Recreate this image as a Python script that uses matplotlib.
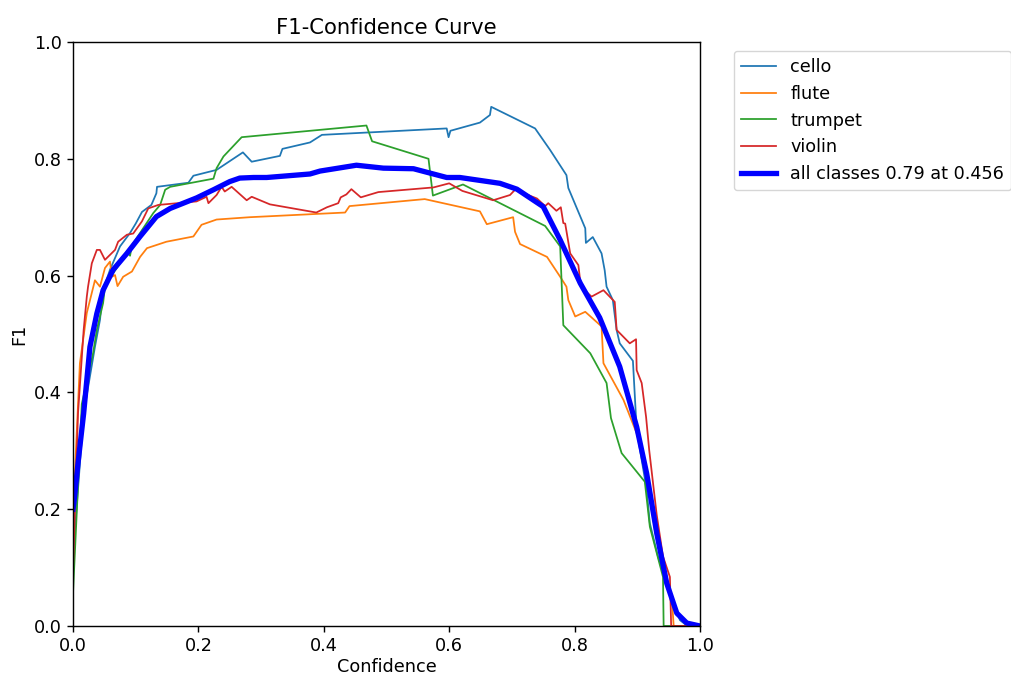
import matplotlib.pyplot as plt

# values (confidence, F1)
cello_x = [0.0, 0.017, 0.035, 0.043, 0.048, 0.059, 0.075, 0.091, 0.10, 0.11, 0.125, 0.133, 0.134,
           0.184, 0.192, 0.229, 0.271, 0.285, 0.330, 0.334, 0.378, 0.397, 0.596, 0.599, 0.602,
           0.649, 0.665, 0.667, 0.737, 0.761, 0.787, 0.790, 0.817, 0.818, 0.829, 0.843, 0.848,
           0.851, 0.861, 0.867, 0.872, 0.893, 0.899, 0.915, 0.920, 0.933, 0.947, 0.968, 0.98, 1.0]
cello_y = [0.12, 0.364, 0.478, 0.524, 0.575, 0.61, 0.65, 0.673, 0.689, 0.709, 0.721, 0.741, 0.752,
           0.759, 0.771, 0.781, 0.811, 0.795, 0.805, 0.817, 0.828, 0.841, 0.852, 0.837, 0.848,
           0.862, 0.875, 0.889, 0.852, 0.815, 0.772, 0.750, 0.681, 0.656, 0.666, 0.638, 0.609,
           0.581, 0.558, 0.507, 0.484, 0.454, 0.336, 0.233, 0.176, 0.119, 0.073, 0.01, 0.0, 0.0]

flute_x = [0.0, 0.011, 0.022, 0.035, 0.043, 0.051, 0.059, 0.062, 0.067, 0.071, 0.080, 0.094, 0.107,
           0.118, 0.149, 0.192, 0.205, 0.229, 0.282, 0.434, 0.441, 0.561, 0.649, 0.660, 0.702,
           0.705, 0.713, 0.756, 0.777, 0.787, 0.790, 0.801, 0.817, 0.843, 0.846, 0.878, 0.899,
           0.915, 0.928, 0.947, 0.955, 0.958, 1.0]
flute_y = [0.19, 0.45, 0.536, 0.592, 0.581, 0.613, 0.624, 0.598, 0.601, 0.582, 0.598, 0.607, 0.632,
           0.647, 0.658, 0.667, 0.687, 0.696, 0.700, 0.708, 0.719, 0.731, 0.710, 0.688, 0.700,
           0.675, 0.654, 0.632, 0.598, 0.581, 0.558, 0.530, 0.538, 0.513, 0.450, 0.387, 0.330,
           0.267, 0.164, 0.073, 0.05, 0.0, 0.0]

trumpet_x = [0.0, 0.014, 0.032, 0.038, 0.048, 0.051, 0.064, 0.075, 0.086, 0.091, 0.094, 0.128, 0.139,
             0.147, 0.155, 0.224, 0.229, 0.240, 0.269, 0.468, 0.477, 0.567, 0.574, 0.622, 0.753,
             0.777, 0.782, 0.825, 0.851, 0.858, 0.875, 0.912, 0.920, 0.941, 0.942, 1.0]
trumpet_y = [0.056, 0.38, 0.467, 0.507, 0.553, 0.581, 0.604, 0.621, 0.641, 0.634, 0.652, 0.707, 0.721,
             0.747, 0.752, 0.766, 0.784, 0.804, 0.837, 0.857, 0.830, 0.800, 0.737, 0.756, 0.685,
             0.650, 0.515, 0.467, 0.416, 0.356, 0.296, 0.247, 0.170, 0.084, 0.0, 0.0]

violin_x = [0.0, 0.008, 0.017, 0.022, 0.024, 0.030, 0.038, 0.043, 0.051, 0.067, 0.072, 0.086, 0.096,
            0.110, 0.120, 0.136, 0.197, 0.213, 0.216, 0.229, 0.237, 0.242, 0.253, 0.277, 0.285,
            0.314, 0.388, 0.405, 0.423, 0.427, 0.436, 0.444, 0.459, 0.487, 0.575, 0.600, 0.621,
            0.670, 0.697, 0.705, 0.740, 0.753, 0.758, 0.771, 0.778, 0.782, 0.785, 0.793, 0.806,
            0.810, 0.827, 0.846, 0.864, 0.866, 0.867, 0.888, 0.898, 0.899, 0.907, 0.914, 0.919,
            0.931, 0.941, 0.952, 0.954, 1.0]
violin_y = [0.096, 0.364, 0.507, 0.564, 0.581, 0.621, 0.644, 0.644, 0.627, 0.644, 0.658, 0.670, 0.672,
            0.693, 0.715, 0.721, 0.727, 0.735, 0.724, 0.738, 0.752, 0.744, 0.752, 0.729, 0.735,
            0.722, 0.708, 0.717, 0.724, 0.734, 0.739, 0.748, 0.734, 0.743, 0.751, 0.758, 0.745,
            0.729, 0.738, 0.747, 0.732, 0.719, 0.724, 0.711, 0.717, 0.690, 0.689, 0.638, 0.618,
            0.581, 0.564, 0.575, 0.555, 0.524, 0.507, 0.484, 0.491, 0.438, 0.416, 0.358, 0.301,
            0.19, 0.119, 0.084, 0.0, 0.0]

all_x = [0.0, 0.002, 0.008, 0.017, 0.027, 0.038, 0.048, 0.064, 0.086, 0.107, 0.133, 0.155, 0.197,
         0.224, 0.250, 0.266, 0.288, 0.309, 0.378, 0.394, 0.452, 0.495, 0.543, 0.596, 0.617,
         0.649, 0.681, 0.708, 0.750, 0.777, 0.809, 0.840, 0.872, 0.899, 0.915, 0.931, 0.947,
         0.963, 0.979, 1.0]
all_y = [0.20, 0.216, 0.279, 0.364, 0.478, 0.535, 0.575, 0.610, 0.638, 0.667, 0.701, 0.715, 0.733,
         0.747, 0.761, 0.767, 0.768, 0.768, 0.774, 0.779, 0.789, 0.784, 0.783, 0.768, 0.768,
         0.763, 0.758, 0.748, 0.718, 0.661, 0.587, 0.528, 0.444, 0.341, 0.261, 0.159, 0.073,
         0.022, 0.005, 0.0]

names = ["cello", "flute", "trumpet", "violin"]
best_f1 = 0.79
best_conf = 0.456

s = 1.27  # font/line scale, matched to the reference's text size
plt.rcParams['font.size'] = 10 * s
plt.rcParams['axes.linewidth'] = 0.8 * s
plt.rcParams['xtick.major.width'] = 0.8 * s
plt.rcParams['ytick.major.width'] = 0.8 * s
plt.rcParams['xtick.major.size'] = 3.5 * s
plt.rcParams['ytick.major.size'] = 3.5 * s

fig = plt.figure(figsize=(10.11, 6.75), dpi=100)
ax = fig.add_axes([73 / 1011, 1 - 626 / 675, 627 / 1011, 584 / 675])

curves = [(cello_x, cello_y), (flute_x, flute_y), (trumpet_x, trumpet_y), (violin_x, violin_y)]
for name, (cx, cy) in zip(names, curves):
    ax.plot(cx, cy, linewidth=1 * s, label=name)
ax.plot(all_x, all_y, linewidth=3 * s, color='blue', label=f'all classes {best_f1:.2f} at {best_conf:.3f}')

ax.set_xlabel('Confidence', labelpad=2)
ax.set_ylabel('F1')
ax.set_xlim(0, 1)
ax.set_ylim(0, 1)
ax.legend(bbox_to_anchor=(1.04, 1), loc='upper left')
ax.set_title('F1-Confidence Curve')

fig.savefig('out.png', dpi=100)
